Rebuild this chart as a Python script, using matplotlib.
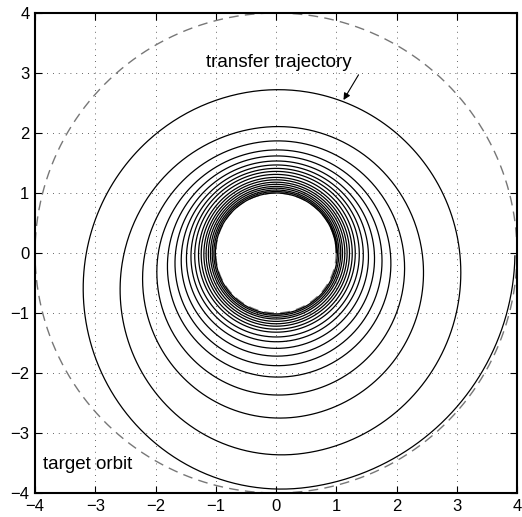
import numpy as np
import matplotlib.pyplot as plt

plt.rcParams['font.family'] = ['Liberation Sans', 'DejaVu Sans']

# orbit radii (normalised units)
initial_r = 1.0
target_r = 4.0

# radius of each revolution at its top (periapsis) and bottom (apoapsis) crossing
peri_r = [1.00, 1.025, 1.05, 1.08, 1.11, 1.145, 1.18, 1.22, 1.26, 1.31, 1.36,
          1.41, 1.467, 1.533, 1.617, 1.717, 1.867, 2.105, 2.72]
apo_r = [1.015, 1.04, 1.07, 1.10, 1.14, 1.18, 1.22, 1.27, 1.32, 1.40, 1.48,
         1.59, 1.72, 1.88, 2.07, 2.37, 2.755, 3.37, 3.94]

apse_shift = np.radians(7.0)   # small rotation of the line of apsides


def half_arc(r1, r2, th0, n=200):
    # conic arc between two apsides, half a revolution long
    phi = np.linspace(0, np.pi, n)
    r = 2 * r1 * r2 / ((r1 + r2) + (r2 - r1) * np.cos(phi))
    return th0 + phi, r


# knot radii alternate apo/peri, starting half a turn before the first peri
knots = [initial_r]
for p, a in zip(peri_r, apo_r):
    knots += [p, a]
knots.append(target_r)

th_all, r_all = [], []
th0 = -np.pi / 2 + apse_shift
for r1, r2 in zip(knots[:-1], knots[1:]):
    th, r = half_arc(r1, r2, th0)
    th_all.append(th)
    r_all.append(r)
    th0 += np.pi
th_all = np.concatenate(th_all)
r_all = np.concatenate(r_all)

# trajectory runs from theta = 0 on the initial orbit to theta = 2*pi*N on the target
n_rev = len(peri_r)
keep = (th_all >= 0) & (th_all <= 2 * np.pi * n_rev)
th_all, r_all = th_all[keep], r_all[keep]

fig = plt.figure(figsize=(5.22, 5.17), dpi=100)
ax = fig.add_axes([35 / 522, 24 / 517, 482 / 522, 480 / 517])

t = np.linspace(0, 2 * np.pi, 400)
for rr in (initial_r, target_r):
    ax.plot(rr * np.cos(t), rr * np.sin(t), color='#777777', lw=1.0,
            dashes=(7, 4.5), zorder=2)

ax.plot(r_all * np.cos(th_all), r_all * np.sin(th_all), color='black',
        lw=0.9, zorder=3)

ax.set_xlim(-4, 4)
ax.set_ylim(-4, 4)
ax.set_xticks(range(-4, 5))
ax.set_yticks(range(-4, 5))
ax.grid(True, color='#333333', lw=0.6, linestyle=(0, (1, 6)))
ax.tick_params(direction='in', length=5, width=0.8, top=True, right=True,
               labelsize=12, pad=4)
for sp in ax.spines.values():
    sp.set_linewidth(1.5)

ax.text(0.05, 3.18, 'transfer trajectory', ha='center', va='center', fontsize=13.5)
ax.annotate('', xy=(1.12, 2.55), xytext=(1.37, 2.97),
            arrowprops=dict(arrowstyle='-|>', color='black', lw=0.8,
                            mutation_scale=10, shrinkA=0, shrinkB=0))
ax.text(-3.87, -3.53, 'target orbit', ha='left', va='center', fontsize=13.5)

fig.savefig('out.png', dpi=100)
